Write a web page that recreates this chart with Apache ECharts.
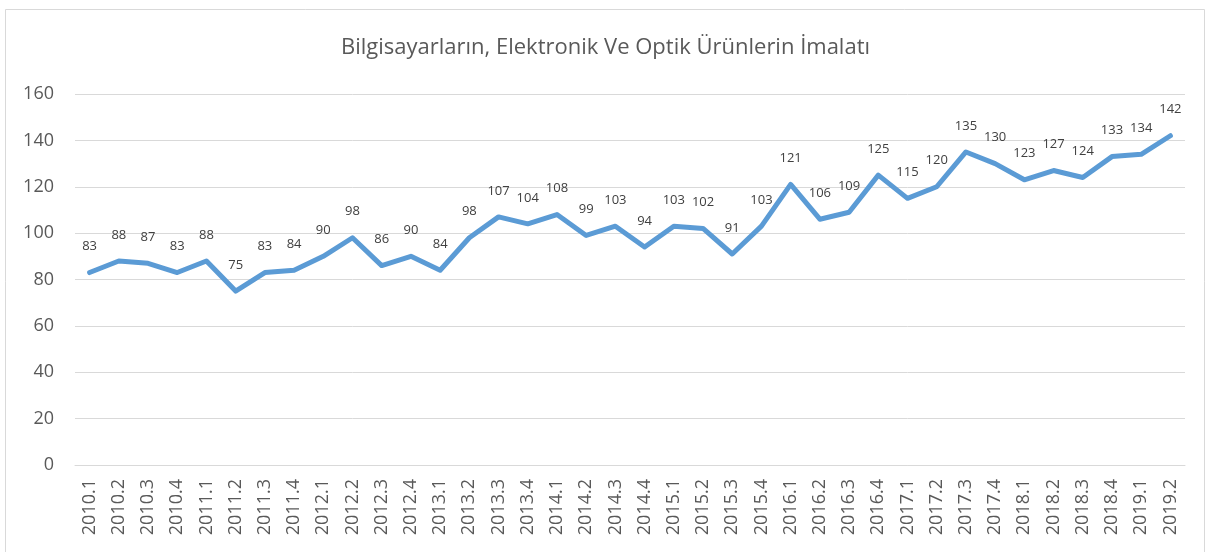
<!DOCTYPE html>
<html>
<head>
<meta charset="utf-8">
<script src="https://cdn.jsdelivr.net/npm/echarts@6/dist/echarts.min.js"></script>
<style>
  html, body { margin: 0; padding: 0; background: #fff; }
  #chart-container { width: 1211px; height: 552px; }
</style>
</head>
<body>
<div id="chart-container"></div>
<script>
var categories = [
  "2010.1", "2010.2", "2010.3", "2010.4",
  "2011.1", "2011.2", "2011.3", "2011.4",
  "2012.1", "2012.2", "2012.3", "2012.4",
  "2013.1", "2013.2", "2013.3", "2013.4",
  "2014.1", "2014.2", "2014.3", "2014.4",
  "2015.1", "2015.2", "2015.3", "2015.4",
  "2016.1", "2016.2", "2016.3", "2016.4",
  "2017.1", "2017.2", "2017.3", "2017.4",
  "2018.1", "2018.2", "2018.3", "2018.4",
  "2019.1", "2019.2"
];
var values = [
  83, 88, 87, 83,
  88, 75, 83, 84,
  90, 98, 86, 90,
  84, 98, 107, 104,
  108, 99, 103, 94,
  103, 102, 91, 103,
  121, 106, 109, 125,
  115, 120, 135, 130,
  123, 127, 124, 133,
  134, 142
];
var yTicks = { min: 0, max: 160, interval: 20 };

var dom = document.getElementById("chart-container");
var myChart = echarts.init(dom, null, { renderer: "canvas" });

var font = "'Open Sans', 'Noto Sans', sans-serif";

var option = {
  animation: false,
  backgroundColor: "#fff",
  title: {
    text: "Bilgisayarların, Elektronik Ve Optik Ürünlerin İmalatı",
    left: "center",
    top: 32,
    textStyle: {
      fontFamily: font,
      fontSize: 22,
      fontWeight: "normal",
      color: "#595959",
    },
  },
  graphic: [
    {
      type: "rect",
      shape: { x: 5.5, y: 9.5, width: 1199, height: 560 },
      style: { fill: "none", stroke: "#d9d9d9", lineWidth: 1 },
      silent: true,
    },
  ],
  grid: {
    left: 75,
    right: 26,
    top: 94,
    bottom: 87,
  },
  xAxis: {
    type: "category",
    data: categories,
    boundaryGap: true,
    axisLine: { show: true, lineStyle: { color: "#d9d9d9", width: 1 } },
    axisTick: { show: false },
    axisLabel: {
      rotate: 90,
      interval: 0,
      margin: 14,
      fontFamily: font,
      fontSize: 18,
      color: "#595959",
    },
  },
  yAxis: {
    type: "value",
    min: yTicks.min,
    max: yTicks.max,
    interval: yTicks.interval,
    axisLine: { show: false },
    axisTick: { show: false },
    axisLabel: {
      margin: 21,
      fontFamily: font,
      fontSize: 18,
      color: "#595959",
    },
    splitLine: { lineStyle: { color: "#d9d9d9", width: 1 } },
  },
  series: [
    {
      type: "line",
      data: values,
      symbol: "circle",
      symbolSize: 1,
      showSymbol: true,
      itemStyle: { color: "rgba(0,0,0,0)" },
      lineStyle: { color: "#5b9bd5", width: 5, join: "round", cap: "round" },
      label: {
        show: true,
        position: "top",
        distance: 19,
        fontFamily: font,
        fontSize: 13,
        color: "#404040",
      },
      labelLayout: { hideOverlap: false },
    },
  ],
};

myChart.setOption(option);
window.addEventListener("resize", myChart.resize);
</script>
</body>
</html>
